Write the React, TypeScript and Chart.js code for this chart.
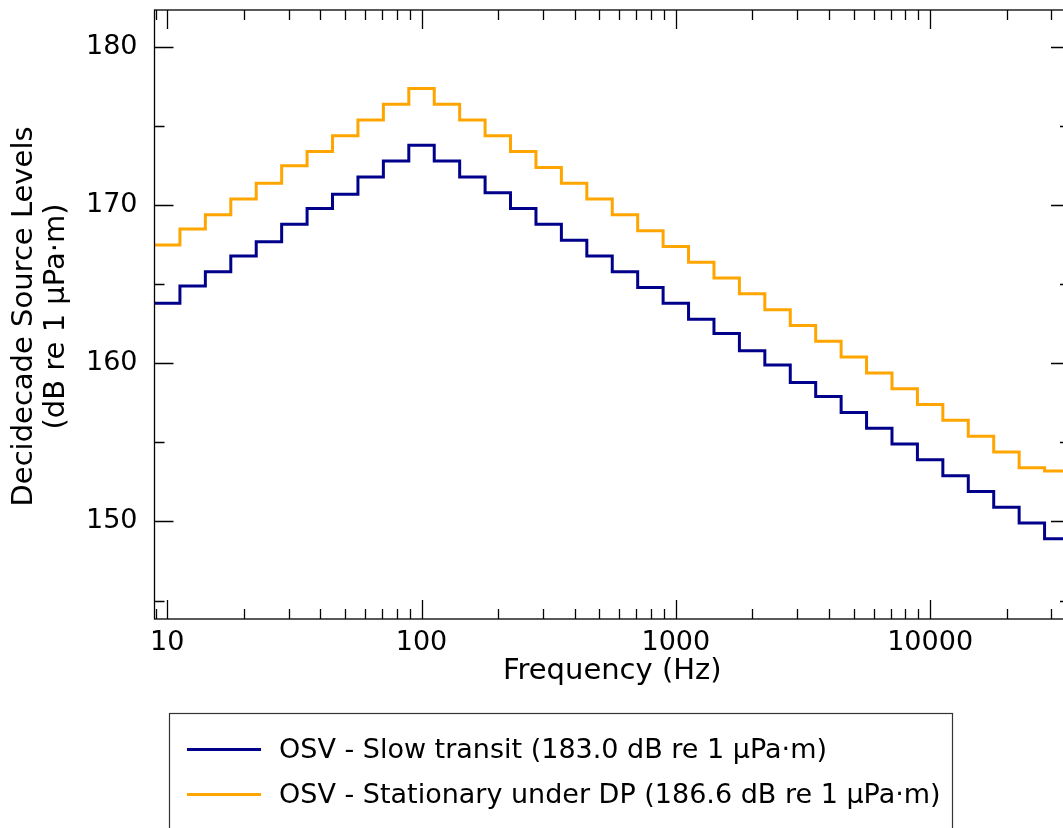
import { useEffect, useRef } from 'react';
import { Chart, registerables } from 'chart.js';

Chart.register(...registerables);

// Nominal decidecade band centre frequencies (Hz)
const bandCentersHz = [10, 12.5, 16, 20, 25, 31.5, 40, 50, 63, 80, 100, 125, 160, 200, 250, 315, 400, 500, 630, 800, 1000, 1250, 1600, 2000, 2500, 3150, 4000, 5000, 6300, 8000, 10000, 12500, 16000, 20000, 25000, 31500];

// Decidecade source levels (dB re 1 µPa·m)
const slowTransit = [163.8, 164.9, 165.8, 166.8, 167.7, 168.8, 169.8, 170.7, 171.8, 172.8, 173.8, 172.8, 171.8, 170.8, 169.8, 168.8, 167.8, 166.8, 165.8, 164.8, 163.8, 162.8, 161.9, 160.8, 159.9, 158.8, 157.9, 156.9, 155.9, 154.9, 153.9, 152.9, 151.9, 150.9, 149.9, 148.9];
const stationaryDP = [167.5, 168.5, 169.4, 170.4, 171.4, 172.5, 173.4, 174.4, 175.4, 176.4, 177.4, 176.4, 175.4, 174.4, 173.4, 172.4, 171.4, 170.4, 169.4, 168.4, 167.4, 166.4, 165.4, 164.4, 163.4, 162.4, 161.4, 160.4, 159.4, 158.4, 157.4, 156.4, 155.4, 154.4, 153.4, 153.2];

const seriesLabels = [
  'OSV - Slow transit (183.0 dB re 1 µPa·m)',
  'OSV - Stationary under DP (186.6 dB re 1 µPa·m)',
];
const seriesColors = ['#00008B', '#FFA500'];

const xTickValues = [10, 100, 1000, 10000];
const yTickValues = [150, 160, 170, 180];
const yMinorValues = [145, 155, 165, 175];
const xAxisTitle = 'Frequency (Hz)';
const yAxisTitle = ['Decidecade Source Levels', '(dB re 1 µPa·m)'];

const X_MIN = Math.pow(10, 0.95);
const X_MAX = Math.pow(10, 4.55);
const Y_MIN = 143.83;
const Y_MAX = 182.36;

const FONT = '"DejaVu Sans", "Liberation Sans", sans-serif';

function exactCenter(f: number) {
  return Math.pow(10, Math.round(10 * Math.log10(f)) / 10);
}

function stepPoints(values: number[]) {
  const pts = values.map((v, i) => ({ x: exactCenter(bandCentersHz[i]) * Math.pow(10, -0.05), y: v }));
  const last = values.length - 1;
  pts.push({ x: exactCenter(bandCentersHz[last]) * Math.pow(10, 0.05), y: values[last] });
  return pts;
}

const framePlugin = {
  id: 'frame',
  afterDraw(chart: any) {
    const { ctx, chartArea } = chart;
    const xs = chart.scales.x;
    const ys = chart.scales.y;
    const { left, right, top, bottom } = chartArea;
    ctx.save();
    ctx.strokeStyle = '#000';
    ctx.lineWidth = 1.3;
    // spines
    ctx.strokeRect(left, top, right - left, bottom - top);
    const MAJ = 19;
    const MIN = 10;
    // x ticks (bottom & top, inward)
    const drawX = (v: number, len: number) => {
      const px = Math.round(xs.getPixelForValue(v)) + 0.5;
      if (px < left - 0.5 || px > right + 0.5) return;
      ctx.beginPath();
      ctx.moveTo(px, bottom);
      ctx.lineTo(px, bottom - len);
      ctx.moveTo(px, top);
      ctx.lineTo(px, top + len);
      ctx.stroke();
    };
    for (let d = 1; d <= 10000; d *= 10) {
      for (let m = 1; m <= 9; m++) {
        const v = d * m;
        if (v < X_MIN || v > X_MAX) continue;
        drawX(v, m === 1 ? MAJ : MIN);
      }
    }
    // y ticks (left & right, inward)
    const drawY = (v: number, len: number) => {
      const py = Math.round(ys.getPixelForValue(v)) + 0.5;
      ctx.beginPath();
      ctx.moveTo(left, py);
      ctx.lineTo(left + len, py);
      ctx.moveTo(right, py);
      ctx.lineTo(right - len, py);
      ctx.stroke();
    };
    yTickValues.forEach((v) => drawY(v, MAJ));
    yMinorValues.forEach((v) => drawY(v, MIN));

    // axis titles
    ctx.fillStyle = '#000';
    ctx.font = `29px ${FONT}`;
    ctx.textAlign = 'center';
    ctx.textBaseline = 'middle';
    ctx.fillText(xAxisTitle, (left + right) / 2, 671);
    ctx.save();
    ctx.translate(24, (top + bottom) / 2 + 2);
    ctx.rotate(-Math.PI / 2);
    ctx.fillText(yAxisTitle[0], 0, 0);
    ctx.fillText(yAxisTitle[1], 0, 32);
    ctx.restore();

    // legend
    ctx.font = `27px ${FONT}`;
    ctx.strokeStyle = '#333';
    ctx.lineWidth = 1.2;
    ctx.strokeRect(169.5, 713.5, 783, 140);
    const rows = [749.5, 794.5];
    chart.data.datasets.forEach((ds: any, i: number) => {
      ctx.strokeStyle = ds.borderColor;
      ctx.lineWidth = 3;
      ctx.beginPath();
      ctx.moveTo(187, rows[i]);
      ctx.lineTo(261, rows[i]);
      ctx.stroke();
      ctx.fillStyle = '#000';
      ctx.textAlign = 'left';
      ctx.textBaseline = 'middle';
      ctx.fillText(ds.label, 279, rows[i] + 1);
    });
    ctx.restore();
  },
};

export default function App() {
  const canvasRef = useRef<HTMLCanvasElement | null>(null);

  useEffect(() => {
    document.body.style.margin = '0';
    document.body.style.overflow = 'hidden';
    const canvas = canvasRef.current;
    if (!canvas) return;
    const chart = new Chart(canvas, {
      type: 'line',
      data: {
        datasets: [
          {
            label: seriesLabels[0],
            data: stepPoints(slowTransit),
            borderColor: seriesColors[0],
            backgroundColor: seriesColors[0],
            borderWidth: 3,
            pointRadius: 0,
            stepped: 'before',
            fill: false,
          },
          {
            label: seriesLabels[1],
            data: stepPoints(stationaryDP),
            borderColor: seriesColors[1],
            backgroundColor: seriesColors[1],
            borderWidth: 3,
            pointRadius: 0,
            stepped: 'before',
            fill: false,
          },
        ],
      },
      options: {
        responsive: false,
        animation: false,
        devicePixelRatio: 1,
        layout: { padding: { left: 0, top: 10, right: 10, bottom: 0 } },
        plugins: {
          legend: { display: false },
          tooltip: { enabled: false },
          title: { display: false },
        },
        scales: {
          x: {
            type: 'logarithmic',
            position: 'bottom',
            min: X_MIN,
            max: X_MAX,
            grid: { display: false, drawTicks: false },
            border: { display: false },
            afterBuildTicks: (scale: any) => {
              scale.ticks = xTickValues.map((v) => ({ value: v }));
            },
            afterFit: (scale: any) => {
              scale.height = 209;
              scale.paddingLeft = 0;
              scale.paddingRight = 0;
            },
            ticks: {
              autoSkip: false,
              maxRotation: 0,
              padding: 8,
              color: '#000',
              font: { family: FONT, size: 27 },
              callback: (v: any) => String(v),
            },
          },
          y: {
            type: 'linear',
            min: Y_MIN,
            max: Y_MAX,
            grid: { display: false, drawTicks: false },
            border: { display: false },
            afterBuildTicks: (scale: any) => {
              scale.ticks = yTickValues.map((v) => ({ value: v }));
            },
            afterFit: (scale: any) => {
              scale.width = 154.5;
              scale.paddingTop = 0;
              scale.paddingBottom = 0;
            },
            ticks: {
              padding: 17,
              color: '#000',
              font: { family: FONT, size: 27 },
              callback: (v: any) => String(v),
            },
          },
        },
      },
      plugins: [framePlugin],
    });
    return () => chart.destroy();
  }, []);

  return (
    <div style={{ position: 'fixed', left: 0, top: 0, width: 1063, height: 828, overflow: 'hidden', background: '#fff' }}>
      <canvas ref={canvasRef} width={1080} height={828} style={{ display: 'block' }} />
    </div>
  );
}
